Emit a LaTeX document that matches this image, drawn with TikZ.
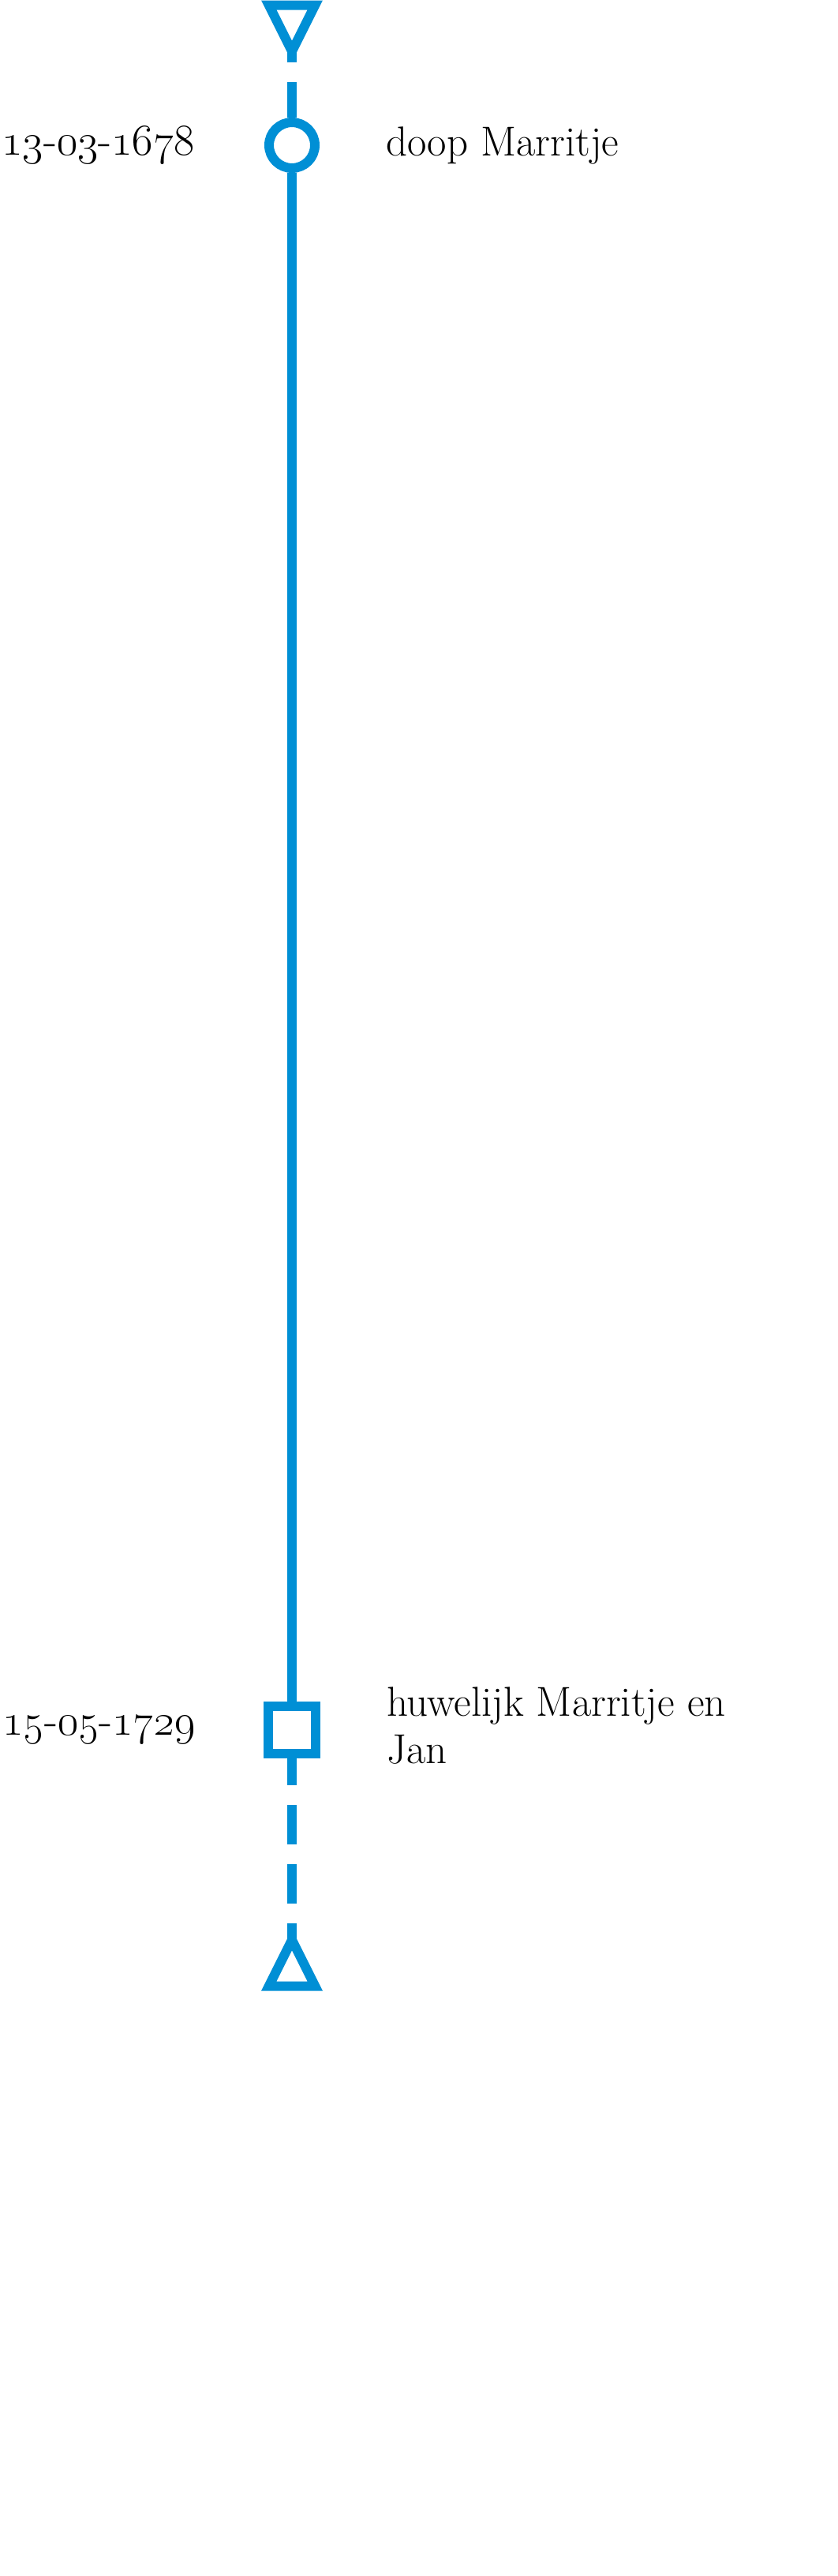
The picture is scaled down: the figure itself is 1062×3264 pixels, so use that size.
\RequirePackage{fix-cm}
\documentclass[tikz,border=0pt]{standalone}
\usepackage{tikz}
\usetikzlibrary{positioning}
\usepackage{xcolor}
\definecolor{lineblue}{RGB}{0,143,213}

\begin{document}
\begin{tikzpicture}[x=1pt, y=1pt,
  evline/.style={draw=lineblue, line width=12pt},
  dashline/.style={evline, dash pattern=on 50pt off 25pt, dash phase=#1},
  dashline/.default=0pt,
  event/.style={#1, draw=lineblue, line width=12pt, fill=white, inner sep=0pt},
  txt/.style={inner sep=0pt, font=\fontsize{53}{60}\selectfont, align=left},
  datum/.style={inner sep=0pt, font=\fontsize{56}{60}\selectfont}]
  \useasboundingbox (0,0) rectangle (1062,-3264);
  % events
  \node[event=circle, minimum size=58pt] (doop) at (370,-184) {};
  \node[event=rectangle, minimum size=60pt] (huwelijk) at (370,-2192) {};
  % open ends
  \coordinate (begin) at (370,-65);
  \coordinate (eind) at (370,-2458);
  \draw[evline, line join=miter] (340.75,-6.5) -- (399.25,-6.5) -- (begin) -- cycle;
  \draw[evline, line join=miter] (340.75,-2516.5) -- (399.25,-2516.5) -- (eind) -- cycle;
  % time line
  \draw[dashline=5pt] (doop.north) -- (begin);
  \draw[evline] (doop.south) -- (huwelijk.north);
  \draw[dashline=16pt] (huwelijk.south) -- (eind);
  % labels
  \node[datum, left=88pt of doop] (datum1) {\oldstylenums{13}-\oldstylenums{03}-\oldstylenums{1678}};
  \node[txt, right=84pt of doop] (tekst1) {doop Marritje};
  \node[datum, left=86pt of huwelijk] (datum2) {\oldstylenums{15}-\oldstylenums{05}-\oldstylenums{1729}};
  \node[txt, right=84pt of huwelijk, yshift=5.5pt] (tekst2) {huwelijk Marritje en\\Jan};
\end{tikzpicture}
\end{document}
